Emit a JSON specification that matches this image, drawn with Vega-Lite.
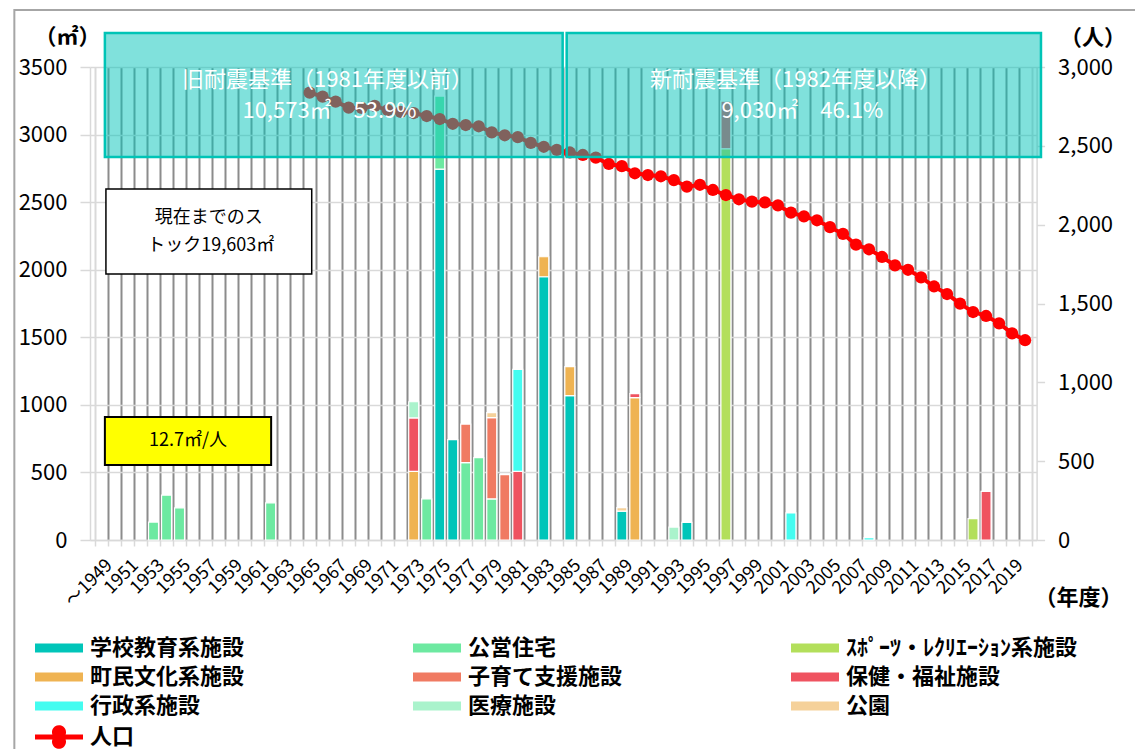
{
  "$schema": "https://vega.github.io/schema/vega-lite/v6.json",
  "width": 946.6,
  "height": 473,
  "autosize": {"type": "none"},
  "padding": {"left": 90, "top": 67, "right": 98.4, "bottom": 209},
  "background": "white",
  "config": {
    "view": {"stroke": null},
    "font": "Noto Sans CJK JP",
    "axis": {"labelFont": "Noto Sans CJK JP", "titleFont": "Noto Sans CJK JP", "labelColor": "black", "titleColor": "black"},
    "legend": {"labelFont": "Noto Sans CJK JP", "labelColor": "black"}
  },
  "datasets": {
    "frame": [
      {"x0": 1942.3, "x1": 2029, "y0": -1600, "y1": 3922}
    ],
    "bars": [
      {"year": 1953, "cat": "公営住宅", "rank": 2, "area": 133},
      {"year": 1954, "cat": "公営住宅", "rank": 2, "area": 332},
      {"year": 1955, "cat": "公営住宅", "rank": 2, "area": 238},
      {"year": 1962, "cat": "公営住宅", "rank": 2, "area": 275},
      {"year": 1973, "cat": "町民文化系施設", "rank": 4, "area": 508},
      {"year": 1973, "cat": "保健・福祉施設", "rank": 6, "area": 395},
      {"year": 1973, "cat": "医療施設", "rank": 8, "area": 120},
      {"year": 1974, "cat": "公営住宅", "rank": 2, "area": 304},
      {"year": 1975, "cat": "学校教育系施設", "rank": 1, "area": 2745},
      {"year": 1975, "cat": "公営住宅", "rank": 2, "area": 540},
      {"year": 1976, "cat": "学校教育系施設", "rank": 1, "area": 742},
      {"year": 1977, "cat": "公営住宅", "rank": 2, "area": 572},
      {"year": 1977, "cat": "子育て支援施設", "rank": 5, "area": 286},
      {"year": 1978, "cat": "公営住宅", "rank": 2, "area": 610},
      {"year": 1979, "cat": "公営住宅", "rank": 2, "area": 304},
      {"year": 1979, "cat": "子育て支援施設", "rank": 5, "area": 602},
      {"year": 1979, "cat": "公園", "rank": 9, "area": 36},
      {"year": 1980, "cat": "子育て支援施設", "rank": 5, "area": 484},
      {"year": 1981, "cat": "保健・福祉施設", "rank": 6, "area": 508},
      {"year": 1981, "cat": "行政系施設", "rank": 7, "area": 755},
      {"year": 1983, "cat": "学校教育系施設", "rank": 1, "area": 1948},
      {"year": 1983, "cat": "町民文化系施設", "rank": 4, "area": 148},
      {"year": 1985, "cat": "学校教育系施設", "rank": 1, "area": 1068},
      {"year": 1985, "cat": "町民文化系施設", "rank": 4, "area": 215},
      {"year": 1989, "cat": "学校教育系施設", "rank": 1, "area": 214},
      {"year": 1989, "cat": "公園", "rank": 9, "area": 25},
      {"year": 1990, "cat": "町民文化系施設", "rank": 4, "area": 1053},
      {"year": 1990, "cat": "保健・福祉施設", "rank": 6, "area": 30},
      {"year": 1993, "cat": "医療施設", "rank": 8, "area": 96},
      {"year": 1994, "cat": "学校教育系施設", "rank": 1, "area": 130},
      {"year": 1997, "cat": "ｽﾎﾟｰﾂ・ﾚｸﾘｴｰｼｮﾝ系施設", "rank": 3, "area": 2895},
      {"year": 1997, "cat": "保健・福祉施設", "rank": 6, "area": 352},
      {"year": 2002, "cat": "行政系施設", "rank": 7, "area": 200},
      {"year": 2008, "cat": "行政系施設", "rank": 7, "area": 18},
      {"year": 2016, "cat": "ｽﾎﾟｰﾂ・ﾚｸﾘｴｰｼｮﾝ系施設", "rank": 3, "area": 158},
      {"year": 2017, "cat": "保健・福祉施設", "rank": 6, "area": 360}
    ],
    "pop": [
      {"year": 1965, "pop": 2837}, {"year": 1966, "pop": 2812}, {"year": 1967, "pop": 2780},
      {"year": 1968, "pop": 2742}, {"year": 1969, "pop": 2740}, {"year": 1970, "pop": 2753},
      {"year": 1971, "pop": 2727}, {"year": 1972, "pop": 2715}, {"year": 1973, "pop": 2708},
      {"year": 1974, "pop": 2689}, {"year": 1975, "pop": 2670}, {"year": 1976, "pop": 2640},
      {"year": 1977, "pop": 2632}, {"year": 1978, "pop": 2624}, {"year": 1979, "pop": 2585},
      {"year": 1980, "pop": 2567}, {"year": 1981, "pop": 2555}, {"year": 1982, "pop": 2519},
      {"year": 1983, "pop": 2494}, {"year": 1984, "pop": 2474}, {"year": 1985, "pop": 2458},
      {"year": 1986, "pop": 2442}, {"year": 1987, "pop": 2425}, {"year": 1988, "pop": 2385},
      {"year": 1989, "pop": 2371}, {"year": 1990, "pop": 2326}, {"year": 1991, "pop": 2315},
      {"year": 1992, "pop": 2307}, {"year": 1993, "pop": 2283}, {"year": 1994, "pop": 2241},
      {"year": 1995, "pop": 2253}, {"year": 1996, "pop": 2220}, {"year": 1997, "pop": 2188},
      {"year": 1998, "pop": 2161}, {"year": 1999, "pop": 2146}, {"year": 2000, "pop": 2141},
      {"year": 2001, "pop": 2122}, {"year": 2002, "pop": 2076}, {"year": 2003, "pop": 2053},
      {"year": 2004, "pop": 2028}, {"year": 2005, "pop": 1984}, {"year": 2006, "pop": 1942},
      {"year": 2007, "pop": 1873}, {"year": 2008, "pop": 1844}, {"year": 2009, "pop": 1795},
      {"year": 2010, "pop": 1742}, {"year": 2011, "pop": 1714}, {"year": 2012, "pop": 1666},
      {"year": 2013, "pop": 1608}, {"year": 2014, "pop": 1560}, {"year": 2015, "pop": 1499},
      {"year": 2016, "pop": 1446}, {"year": 2017, "pop": 1421}, {"year": 2018, "pop": 1374},
      {"year": 2019, "pop": 1311}, {"year": 2020, "pop": 1267}
    ],
    "boxes": [
      {"x0": 1949.26, "x1": 1984.45, "y0": 2834, "y1": 3752},
      {"x0": 1984.76, "x1": 2021.22, "y0": 2834, "y1": 3752}
    ],
    "boxtext": [
      {"tx": 1966.37, "ty": 3404, "t": "旧耐震基準（1981年度以前）"},
      {"tx": 1966.53, "ty": 3175, "t": "10,573㎡　53.9%"},
      {"tx": 2002.35, "ty": 3404, "t": "新耐震基準（1982年度以降）"},
      {"tx": 2002.88, "ty": 3175, "t": "9,030㎡　46.1%"}
    ],
    "notes": [
      {"kind": "stock", "x0": 1949.34, "x1": 1965.16, "y0": 1968, "y1": 2597},
      {"kind": "ratio", "x0": 1949.26, "x1": 1962.04, "y0": 555, "y1": 910}
    ],
    "notetext": [
      {"tx": 1957.25, "ty": 2383, "t": "現在までのス"},
      {"tx": 1957.4, "ty": 2176, "t": "トック19,603㎡"},
      {"tx": 1955.65, "ty": 733, "t": "12.7㎡/人"}
    ]
  },
  "resolve": {"scale": {"y": "independent"}},
  "layer": [
    {
      "data": {"name": "frame"},
      "mark": {"type": "rect", "fill": null, "filled": false, "stroke": "#a6a6a6", "strokeWidth": 2},
      "encoding": {
        "x": {"field": "x0", "type": "quantitative", "scale": {"domain": [1948.5, 2020.5], "nice": false, "zero": false}},
        "x2": {"field": "x1"},
        "y": {"field": "y0", "type": "quantitative", "scale": {"domain": [0, 3500], "nice": false}, "axis": null},
        "y2": {"field": "y1"}
      }
    },
    {
      "data": {"name": "bars"},
      "mark": {"type": "bar", "size": 10, "stroke": "white", "strokeWidth": 1.2},
      "encoding": {
        "x": {
          "field": "year", "type": "quantitative",
          "scale": {"domain": [1948.5, 2020.5], "nice": false, "zero": false},
          "axis": {
            "values": [1948.5,1949.5,1950.5,1951.5,1952.5,1953.5,1954.5,1955.5,1956.5,1957.5,1958.5,1959.5,1960.5,1961.5,1962.5,1963.5,1964.5,1965.5,1966.5,1967.5,1968.5,1969.5,1970.5,1971.5,1972.5,1973.5,1974.5,1975.5,1976.5,1977.5,1978.5,1979.5,1980.5,1981.5,1982.5,1983.5,1984.5,1985.5,1986.5,1987.5,1988.5,1989.5,1990.5,1991.5,1992.5,1993.5,1994.5,1995.5,1996.5,1997.5,1998.5,1999.5,2000.5,2001.5,2002.5,2003.5,2004.5,2005.5,2006.5,2007.5,2008.5,2009.5,2010.5,2011.5,2012.5,2013.5,2014.5,2015.5,2016.5,2017.5,2018.5,2019.5,2020.5],
            "tickCount": 200,
            "labelExpr": "datum.value == 1948.5 ? '～1949' : (((datum.value + 0.5) % 2 == 1 && datum.value < 2020) ? format(datum.value + 0.5, 'd') : '')",
            "labelAngle": -45, "labelAlign": "right", "labelBaseline": "top",
            "labelOffset": 8, "labelPadding": 10, "labelFontSize": 18,
            "labelOverlap": false, "labelFlush": false, "labelBound": false,
            "tickColor": "#d9d9d9", "tickSize": 6, "tickWidth": 1.5,
            "domainColor": "#d9d9d9", "domainWidth": 1.5,
            "grid": true,
            "gridColor": {"condition": {"test": "datum.value == 1948.5 || datum.value == 2020.5", "value": "#d9d9d9"}, "value": "#8c8c8c"},
            "gridWidth": 2,
            "title": "（年度）", "titleX": 988, "titleY": 57, "titleAlign": "center", "titleBaseline": "middle",
            "titleFontSize": 22, "titleFontWeight": "bold"
          }
        },
        "y": {
          "field": "area", "type": "quantitative", "stack": "zero",
          "scale": {"domain": [0, 3500], "nice": false},
          "axis": {
            "values": [0, 500, 1000, 1500, 2000, 2500, 3000, 3500], "format": "d",
            "grid": true, "gridColor": "#d9d9d9", "gridWidth": 1.5,
            "domainColor": "#d9d9d9", "domainWidth": 1.5,
            "tickColor": "#d9d9d9", "tickSize": 10, "tickWidth": 1.5,
            "labelFontSize": 22, "labelPadding": 13,
            "title": "（㎡）", "titleAngle": 0, "titleX": -23, "titleY": -31,
            "titleAlign": "center", "titleBaseline": "middle", "titleFontSize": 22, "titleFontWeight": "bold"
          }
        },
        "order": {"field": "rank", "type": "quantitative", "sort": "ascending"},
        "color": {
          "field": "cat", "type": "nominal",
          "scale": {
            "domain": ["学校教育系施設", "公営住宅", "ｽﾎﾟｰﾂ・ﾚｸﾘｴｰｼｮﾝ系施設", "町民文化系施設", "子育て支援施設", "保健・福祉施設", "行政系施設", "医療施設", "公園"],
            "range": ["#00c5b9", "#6de9a1", "#b3df5b", "#efb352", "#f07a62", "#ef5360", "#44fcf0", "#aaf3cc", "#f5d19a"]
          },
          "legend": {
            "orient": "none", "legendX": -43, "legendY": 569, "columns": 3, "direction": "horizontal",
            "gridAlign": "all", "columnPadding": 91, "rowPadding": 6, "padding": 0, "title": null,
            "symbolType": "M-2,-0.38H2V0.38H-2Z", "symbolSize": 576, "symbolStrokeWidth": 0,
            "labelFontSize": 22, "labelFontWeight": "bold", "labelLimit": 500, "labelOffset": 19
          }
        }
      }
    },
    {
      "data": {"name": "pop"},
      "mark": {"type": "line", "color": "#ff0000", "strokeWidth": 4},
      "encoding": {
        "x": {"field": "year", "type": "quantitative", "scale": {"domain": [1948.5, 2020.5], "nice": false, "zero": false}},
        "y": {
          "field": "pop", "type": "quantitative",
          "scale": {"domain": [0, 3000], "nice": false},
          "axis": {
            "orient": "right", "values": [0, 500, 1000, 1500, 2000, 2500, 3000], "format": ",d",
            "grid": false, "domainColor": "#d9d9d9", "domainWidth": 1.5,
            "tickColor": "#d9d9d9", "tickSize": 8, "tickWidth": 1.5,
            "labelFontSize": 22, "labelPadding": 13,
            "title": "（人）", "titleAngle": 0, "titleX": 56, "titleY": -30,
            "titleAlign": "center", "titleBaseline": "middle", "titleFontSize": 22, "titleFontWeight": "bold"
          }
        }
      }
    },
    {
      "data": {"name": "pop"},
      "mark": {"type": "point", "filled": true, "shape": "circle", "size": 150, "opacity": 1, "strokeWidth": 0},
      "encoding": {
        "x": {"field": "year", "type": "quantitative", "scale": {"domain": [1948.5, 2020.5], "nice": false, "zero": false}},
        "y": {"field": "pop", "type": "quantitative", "scale": {"domain": [0, 3000], "nice": false}, "axis": null},
        "fill": {
          "datum": "人口",
          "scale": {"domain": ["人口"], "range": ["#ff0000"]},
          "legend": {
            "orient": "none", "legendX": -43, "legendY": 658, "padding": 0, "title": null,
            "symbolType": "M-2,-0.2H-0.55A0.585,0.585 0 1,1 0.55,-0.2H2V0.2H0.55A0.585,0.585 0 1,1 -0.55,0.2H-2Z",
            "symbolSize": 576, "symbolStrokeWidth": 0, "symbolOpacity": 1,
            "labelFontSize": 22, "labelFontWeight": "bold", "labelLimit": 500, "labelOffset": 19
          }
        }
      }
    },
    {
      "data": {"name": "boxes"},
      "mark": {"type": "rect", "fill": "#01c3b9", "fillOpacity": 0.5, "stroke": "#00c4b6", "strokeWidth": 2.5},
      "encoding": {
        "x": {"field": "x0", "type": "quantitative", "scale": {"domain": [1948.5, 2020.5], "nice": false, "zero": false}},
        "x2": {"field": "x1"},
        "y": {"field": "y0", "type": "quantitative", "scale": {"domain": [0, 3500], "nice": false}, "axis": null},
        "y2": {"field": "y1"}
      }
    },
    {
      "data": {"name": "boxtext"},
      "mark": {"type": "text", "color": "white", "fontSize": 22, "align": "center", "baseline": "middle", "font": "Noto Sans CJK JP"},
      "encoding": {
        "x": {"field": "tx", "type": "quantitative", "scale": {"domain": [1948.5, 2020.5], "nice": false, "zero": false}},
        "y": {"field": "ty", "type": "quantitative", "scale": {"domain": [0, 3500], "nice": false}, "axis": null},
        "text": {"field": "t"}
      }
    },
    {
      "data": {"name": "notes"},
      "transform": [{"filter": "datum.kind == 'stock'"}],
      "mark": {"type": "rect", "fill": "white", "stroke": "black", "strokeWidth": 1.5},
      "encoding": {
        "x": {"field": "x0", "type": "quantitative", "scale": {"domain": [1948.5, 2020.5], "nice": false, "zero": false}},
        "x2": {"field": "x1"},
        "y": {"field": "y0", "type": "quantitative", "scale": {"domain": [0, 3500], "nice": false}, "axis": null},
        "y2": {"field": "y1"}
      }
    },
    {
      "data": {"name": "notes"},
      "transform": [{"filter": "datum.kind == 'ratio'"}],
      "mark": {"type": "rect", "fill": "#ffff00", "stroke": "black", "strokeWidth": 2},
      "encoding": {
        "x": {"field": "x0", "type": "quantitative", "scale": {"domain": [1948.5, 2020.5], "nice": false, "zero": false}},
        "x2": {"field": "x1"},
        "y": {"field": "y0", "type": "quantitative", "scale": {"domain": [0, 3500], "nice": false}, "axis": null},
        "y2": {"field": "y1"}
      }
    },
    {
      "data": {"name": "notetext"},
      "mark": {"type": "text", "color": "black", "fontSize": 18, "align": "center", "baseline": "middle", "font": "Noto Sans CJK JP"},
      "encoding": {
        "x": {"field": "tx", "type": "quantitative", "scale": {"domain": [1948.5, 2020.5], "nice": false, "zero": false}},
        "y": {"field": "ty", "type": "quantitative", "scale": {"domain": [0, 3500], "nice": false}, "axis": null},
        "text": {"field": "t"}
      }
    }
  ]
}
